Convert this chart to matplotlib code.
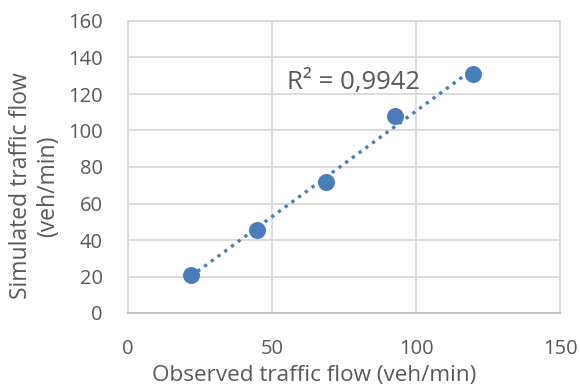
import numpy as np
import matplotlib.pyplot as plt

# observed vs simulated flow
observed = [21.8, 44.9, 68.8, 92.7, 119.9]
simulated = [20.8, 45.5, 71.9, 108.1, 131.0]
x_ticks = [0, 50, 100, 150]
y_ticks = [0, 20, 40, 60, 80, 100, 120, 140, 160]

grey = "#595959"
blue = "#4a7ebb"

plt.rcParams['font.family'] = ['Open Sans', 'DejaVu Sans']

fig = plt.figure(figsize=(5.8, 3.9), dpi=100)
ax = fig.add_axes([128/580, 1 - 313/390, (560-128)/580, (313-21)/390])

# linear trendline
k, b = np.polyfit(observed, simulated, 1)
xs = np.array([min(observed), max(observed)])
ax.plot(xs, k*xs + b, color=blue, linestyle=(0, (1, 1.5)), linewidth=2.4, zorder=2)
ax.scatter(observed, simulated, s=150, color=blue, zorder=3, linewidths=0)

ax.set_xlim(0, 150)
ax.set_ylim(0, 160)
ax.set_xticks(x_ticks)
ax.set_yticks(y_ticks)
ax.grid(True, color="#d9d9d9", linewidth=1.3)
ax.set_axisbelow(True)
for s in ax.spines.values():
    s.set_color("#d9d9d9")
    s.set_linewidth(1.3)
ax.spines['bottom'].set_color("#bfbfbf")
ax.tick_params(length=0, labelsize=14.5, colors=grey)
ax.tick_params(axis='y', pad=18)
ax.tick_params(axis='x', pad=19)

ax.set_xlabel("Observed traffic flow (veh/min)", fontsize=16.2, color=grey)
ax.set_ylabel("Simulated traffic flow\n(veh/min)", fontsize=16.5, color=grey,
              linespacing=1.15)
# excel centres the titles a bit off the plot area
ax.xaxis.set_label_coords(0.43, -0.178)
ax.yaxis.set_label_coords(-0.158, 0.435)

ax.text(55.3, 122.5, "R² = 0,9942", fontsize=18.5, color=grey)

fig.savefig("out.png", dpi=100)
